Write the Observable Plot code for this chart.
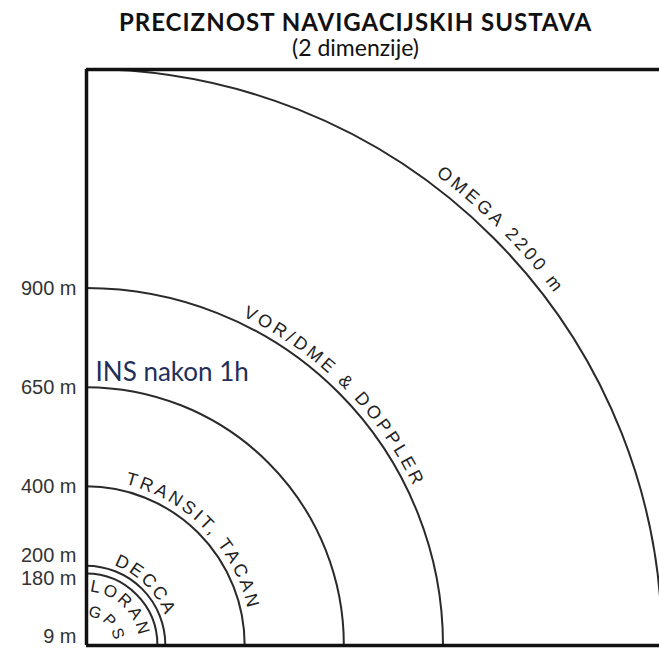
<!DOCTYPE html>
<html><head><meta charset="utf-8">
<script src="https://cdn.jsdelivr.net/npm/d3@7"></script>
<script src="https://cdn.jsdelivr.net/npm/@observablehq/plot@0.6"></script>
<style>
body{margin:0;background:#fff;}
#title{height:62px;width:659px;text-align:center;font-family:Lato,"Open Sans",sans-serif;color:#111;padding-left:52px;box-sizing:border-box;}
#title .t{font-weight:bold;font-size:24px;line-height:26px;padding-top:9px;letter-spacing:1px;}
#title .s{font-size:23px;line-height:24px;}
#chart svg{display:block;}
</style></head><body>
<div id="title"><div class="t">PRECIZNOST NAVIGACIJSKIH SUSTAVA</div><div class="s">(2 dimenzije)</div></div>
<div id="chart"></div>
<script>
// --- data ---
const systems = ["OMEGA 2200 m", "VOR/DME & DOPPLER", "INS nakon 1h", "TRANSIT, TACAN", "DECCA", "LORAN", "GPS"];
const radii   = [2200, 900, 650, 400, 200, 180, 9];
const arcShown = [true, true, true, true, true, true, false];
const tickValues = [9, 180, 200, 400, 650, 900];
const tickLabels = ["9 m", "180 m", "200 m", "400 m", "650 m", "900 m"];

// label styling along arcs (baseline offset in px from arc, position in % along the quarter arc)
const labelStyle = {
  "OMEGA 2200 m":      {mode: "arc", offset: 10,  at: 50, size: 18, spacing: 3.3},
  "VOR/DME & DOPPLER": {mode: "arc", offset: 7,   at: 50, size: 18, spacing: 3.3},
  "TRANSIT, TACAN":    {mode: "arc", offset: 7,   at: 51, size: 18, spacing: 3},
  "DECCA":             {mode: "arc", offset: 5,   at: 50, size: 18, spacing: 2.5},
  "LORAN":             {mode: "arc", offset: -18, at: 48, size: 17, spacing: 2.9},
  "GPS":               {mode: "arc", offset: 25,  at: 49, size: 16, spacing: 2.5},
  "INS nakon 1h":      {mode: "flat"}
};

const W = 659, H = 586;
const table = systems.map((s, i) => ({system: s, r: radii[i], shown: arcShown[i]}));
const ticks = tickValues.map((v, i) => ({v, label: tickLabels[i]}));

function arcsMark(index, scales) {
  const x = scales.x, y = scales.y;
  const cx = x(0), cy = y(0);
  const g = d3.create("svg:g");
  table.forEach((d, i) => {
    const rho = cy - y(d.r);
    if (d.shown) {
      g.append("path")
        .attr("d", `M${cx},${cy - rho} A${rho},${rho} 0 0 1 ${cx + rho},${cy}`)
        .attr("fill", "none").attr("stroke", "#2a2a2a").attr("stroke-width", 2);
    }
    const st = labelStyle[d.system];
    if (st.mode === "arc") {
      const R = rho + st.offset;
      const id = "lp" + i;
      g.append("path").attr("id", id)
        .attr("d", `M${cx},${cy - R} A${R},${R} 0 0 1 ${cx + R},${cy}`)
        .attr("fill", "none").attr("stroke", "none");
      g.append("text")
        .attr("font-family", "'Liberation Sans', Arial, sans-serif")
        .attr("font-size", st.size).attr("fill", "#222")
        .attr("letter-spacing", st.spacing)
        .append("textPath").attr("href", "#" + id)
        .attr("startOffset", st.at + "%").attr("text-anchor", "middle")
        .text(d.system);
    }
  });
  return g.node();
}

const ins = table.filter(d => labelStyle[d.system].mode === "flat");
const tickFont = "'Liberation Sans', Arial, sans-serif";
const tickStyle = {x: 0, y: "v", text: "label", dx: -10, textAnchor: "end", fontSize: 20, fill: "#333", fontFamily: tickFont};

const plot = Plot.plot({
  width: W, height: H,
  marginLeft: 86, marginRight: 0, marginTop: 7, marginBottom: 3,
  x: {type: "linear", domain: [0, 900, 2200], range: [86, 443, 662], axis: null},
  y: {type: "linear", domain: [0, 900, 2200], range: [583, 226, 7], axis: null},
  marks: [
    arcsMark,
    Plot.ruleY([2200], {stroke: "#111", strokeWidth: 3.5}),
    Plot.ruleY([0], {stroke: "#111", strokeWidth: 3.5}),
    Plot.ruleX([0], {stroke: "#111", strokeWidth: 3.5}),
    Plot.text(ticks.filter(d => d.v >= 400), tickStyle),
    Plot.text(ticks.filter(d => d.v === 200), {...tickStyle, dy: -11}),
    Plot.text(ticks.filter(d => d.v === 180), {...tickStyle, dy: 4}),
    Plot.text(ticks.filter(d => d.v === 9), {...tickStyle, dy: -5}),
    Plot.text(ins, {x: 0, y: "r", text: "system", dx: 9, dy: -15, textAnchor: "start", fontSize: 26, fill: "#1f2f5a", fontFamily: "Lato, 'Open Sans', sans-serif"})
  ]
});
document.getElementById("chart").appendChild(plot);
</script>
</body></html>
